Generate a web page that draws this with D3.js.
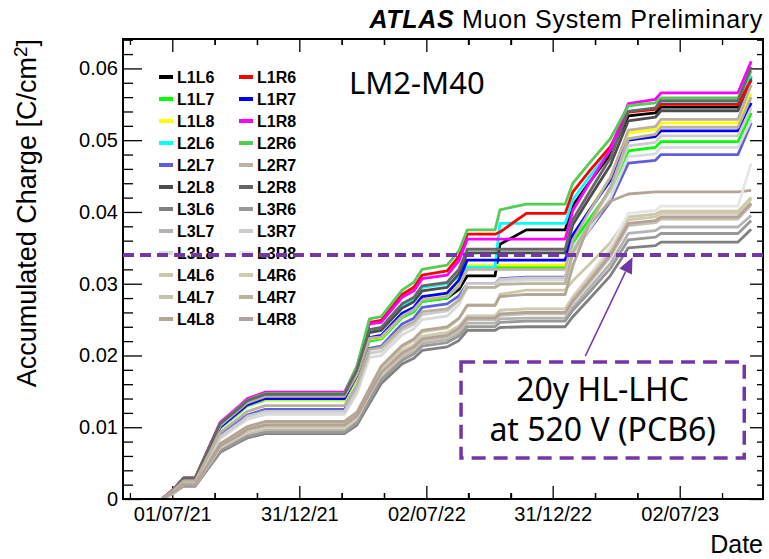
<!DOCTYPE html>
<html>
<head>
<meta charset="utf-8">
<script src="https://cdn.jsdelivr.net/npm/d3@7"></script>
<style>
  body { margin: 0; background: #fff; }
  text { font-family: "Liberation Sans", Arial, Helvetica, sans-serif; }
</style>
</head>
<body>
<svg id="chart" width="769" height="559"></svg>
<script>
// Sampling dates shared by every channel
const dates = ['2021-06-16','2021-07-02','2021-07-17','2021-08-03','2021-09-08','2021-10-07','2021-10-17','2021-11-12',
  '2022-03-06','2022-03-24','2022-04-11','2022-04-28','2022-05-28','2022-06-14','2022-06-26','2022-08-01','2022-08-18',
  '2022-08-30','2022-10-09','2022-10-16','2022-11-23','2023-01-18','2023-01-29','2023-02-21','2023-03-24','2023-04-19',
  '2023-05-28','2023-06-05','2023-09-24','2023-10-13'];

// Accumulated charge per HV channel [C/cm^2]
const L1L6 = [0,.0012,.0029,.0029,.0105,.0128,.0137,.0146,.0146,.0175,.0224,.0226,.0254,.0262,.0276,.0280,.0292,.0311,.0311,.0355,.0375,.0375,.0409,.0440,.0480,.0534,.0538,.0546,.0546,.0588];
const L1L7 = [0,.0012,.0027,.0027,.0099,.0121,.0130,.0138,.0138,.0169,.0220,.0223,.0253,.0261,.0275,.0280,.0297,.0322,.0322,.0323,.0323,.0323,.0357,.0389,.0430,.0485,.0490,.0498,.0498,.0538];
const L1L8 = [0,.0012,.0027,.0027,.0100,.0122,.0131,.0139,.0139,.0170,.0223,.0225,.0255,.0264,.0278,.0283,.0300,.0326,.0326,.0326,.0326,.0326,.0365,.0401,.0448,.0510,.0515,.0524,.0524,.0565];
const L2L6 = [0,.0012,.0028,.0028,.0103,.0126,.0135,.0144,.0144,.0178,.0234,.0237,.0270,.0279,.0295,.0300,.0309,.0323,.0323,.0384,.0384,.0384,.0417,.0448,.0487,.0540,.0544,.0552,.0552,.0590];
const L2L7 = [0,.0011,.0025,.0025,.0090,.0110,.0117,.0125,.0125,.0157,.0210,.0213,.0244,.0252,.0267,.0272,.0283,.0300,.0300,.0307,.0309,.0309,.0343,.0374,.0414,.0468,.0472,.0480,.0480,.0524];
const L2L8 = [0,.0012,.0028,.0028,.0104,.0127,.0136,.0145,.0145,.0177,.0232,.0235,.0266,.0275,.0290,.0295,.0314,.0343,.0343,.0343,.0343,.0343,.0382,.0418,.0465,.0527,.0532,.0541,.0541,.0585];
const L3L6 = [0,.0008,.0018,.0018,.0065,.0080,.0085,.0091,.0091,.0103,.0133,.0161,.0188,.0196,.0207,.0212,.0221,.0235,.0235,.0239,.0240,.0240,.0254,.0278,.0311,.0350,.0353,.0358,.0358,.0376];
const L3L7 = [0,.0008,.0019,.0019,.0069,.0084,.0090,.0096,.0096,.0109,.0140,.0169,.0197,.0206,.0217,.0222,.0231,.0245,.0245,.0251,.0252,.0252,.0267,.0293,.0328,.0370,.0374,.0379,.0379,.0395];
const L3L8 = [0,.0010,.0023,.0023,.0084,.0104,.0111,.0118,.0118,.0147,.0197,.0200,.0229,.0237,.0250,.0255,.0271,.0295,.0295,.0303,.0305,.0305,.0341,.0375,.0419,.0477,.0481,.0490,.0490,.0528];
const L4L6 = [0,.0009,.0021,.0021,.0075,.0092,.0099,.0105,.0105,.0118,.0152,.0182,.0211,.0221,.0233,.0238,.0251,.0270,.0270,.0285,.0291,.0291,.0304,.0326,.0357,.0393,.0397,.0401,.0401,.0420];
const L4L7 = [0,.0008,.0019,.0019,.0068,.0083,.0089,.0095,.0095,.0108,.0141,.0170,.0199,.0208,.0220,.0225,.0235,.0250,.0250,.0256,.0258,.0258,.0274,.0300,.0337,.0381,.0385,.0390,.0390,.0410];
const L4L8 = [0,.0009,.0021,.0021,.0077,.0095,.0101,.0108,.0108,.0121,.0154,.0185,.0214,.0223,.0235,.0240,.0252,.0270,.0270,.0282,.0285,.0285,.0325,.0382,.0415,.0425,.0428,.0428,.0428,.0430];
const L1R6 = [0,.0012,.0029,.0029,.0105,.0128,.0137,.0146,.0146,.0183,.0246,.0249,.0285,.0295,.0312,.0318,.0338,.0369,.0369,.0372,.0398,.0398,.0428,.0456,.0491,.0539,.0543,.0550,.0550,.0584];
const L1R7 = [0,.0012,.0027,.0027,.0100,.0123,.0131,.0140,.0140,.0172,.0225,.0228,.0259,.0267,.0282,.0287,.0305,.0333,.0333,.0333,.0333,.0333,.0368,.0401,.0444,.0500,.0505,.0513,.0513,.0552];
const L1R8 = [0,.0013,.0029,.0029,.0107,.0131,.0140,.0149,.0149,.0184,.0244,.0246,.0281,.0290,.0307,.0312,.0332,.0362,.0362,.0362,.0362,.0362,.0402,.0439,.0487,.0551,.0557,.0566,.0566,.0610];
const L2R6 = [0,.0012,.0029,.0029,.0105,.0129,.0138,.0147,.0147,.0185,.0251,.0254,.0291,.0302,.0320,.0326,.0346,.0375,.0375,.0403,.0411,.0411,.0440,.0467,.0502,.0548,.0552,.0559,.0559,.0597];
const L2R7 = [0,.0012,.0028,.0028,.0102,.0126,.0134,.0143,.0143,.0173,.0224,.0226,.0255,.0264,.0277,.0282,.0297,.0320,.0320,.0320,.0320,.0320,.0361,.0399,.0448,.0514,.0519,.0529,.0529,.0577];
const L2R8 = [0,.0012,.0029,.0029,.0105,.0128,.0137,.0146,.0146,.0180,.0236,.0239,.0272,.0281,.0297,.0302,.0320,.0348,.0348,.0348,.0348,.0348,.0389,.0426,.0475,.0540,.0545,.0555,.0555,.0602];
const L3R6 = [0,.0008,.0018,.0018,.0067,.0082,.0087,.0093,.0093,.0106,.0137,.0166,.0193,.0202,.0213,.0218,.0227,.0240,.0240,.0246,.0248,.0248,.0263,.0287,.0321,.0361,.0365,.0370,.0370,.0388];
const L3R7 = [0,.0010,.0024,.0024,.0087,.0107,.0115,.0122,.0122,.0152,.0203,.0206,.0235,.0243,.0257,.0262,.0277,.0300,.0300,.0306,.0308,.0308,.0347,.0383,.0430,.0492,.0497,.0506,.0506,.0545];
const L3R8 = [0,.0008,.0020,.0020,.0072,.0088,.0094,.0100,.0100,.0113,.0146,.0175,.0204,.0213,.0225,.0230,.0240,.0255,.0255,.0263,.0265,.0265,.0282,.0311,.0351,.0398,.0402,.0408,.0408,.0468];
const L4R6 = [0,.0008,.0020,.0020,.0072,.0088,.0094,.0100,.0100,.0113,.0146,.0177,.0206,.0215,.0227,.0232,.0241,.0255,.0255,.0263,.0265,.0265,.0281,.0308,.0345,.0389,.0393,.0398,.0398,.0418];
const L4R7 = [0,.0011,.0025,.0025,.0093,.0114,.0122,.0130,.0130,.0159,.0208,.0211,.0239,.0247,.0261,.0265,.0277,.0295,.0295,.0299,.0300,.0300,.0343,.0383,.0434,.0502,.0508,.0518,.0518,.0560];
const L4R8 = [0,.0009,.0020,.0020,.0074,.0090,.0097,.0103,.0103,.0116,.0147,.0176,.0203,.0212,.0223,.0228,.0238,.0252,.0252,.0258,.0260,.0260,.0276,.0303,.0340,.0384,.0388,.0393,.0393,.0412];

const channelNames = ['L1L6','L1L7','L1L8','L2L6','L2L7','L2L8','L3L6','L3L7','L3L8','L4L6','L4L7','L4L8',
                      'L1R6','L1R7','L1R8','L2R6','L2R7','L2R8','L3R6','L3R7','L3R8','L4R6','L4R7','L4R8'];
const channelValues = [L1L6,L1L7,L1L8,L2L6,L2L7,L2L8,L3L6,L3L7,L3L8,L4L6,L4L7,L4L8,
                       L1R6,L1R7,L1R8,L2R6,L2R7,L2R8,L3R6,L3R7,L3R8,L4R6,L4R7,L4R8];
const channelColors = ['#000000','#00ff00','#ffff00','#00ffff','#5f5fdc','#4d4d4d','#808080','#b3b3b3','#dadada','#cdc8ab','#c6c2ad','#b4a695',
                       '#ff0000','#0000ff','#ff00ff','#55cc55','#bcb1a4','#666666','#999999','#cccccc','#e6e6e6','#d0cbae','#b9b39d','#b4a19b'];

// Axis ticks
const xMajorTickDates = ['2021-07-01','2021-12-31','2022-07-02','2022-12-31','2023-07-02'];
const xTickLabels = ['01/07/21','31/12/21','02/07/22','31/12/22','02/07/23'];
const yMajorTicks = [0, 0.01, 0.02, 0.03, 0.04, 0.05, 0.06];
const yTickLabels = ['0','0.01','0.02','0.03','0.04','0.05','0.06'];

// HL-LHC reference level
const hlLhcCharge = 0.034;

const parse = d3.utcParse('%Y-%m-%d');
const svg = d3.select('#chart');
const m = { left: 123, right: 763, top: 39, bottom: 499 };

const x = d3.scaleUtc()
  .domain([parse('2021-04-21'), parse('2023-10-30')])
  .range([m.left, m.right]);
const y = d3.scaleLinear().domain([0, 0.0641]).range([m.bottom, m.top]);

const xMajor = xMajorTickDates.map(parse);
const xMinor = [];
xMajor.forEach(d => {
  [-122, -61, 61, 122].forEach(o => {
    const t = d3.utcDay.offset(d, o);
    if (t >= x.domain()[0] && t <= x.domain()[1]) xMinor.push(t);
  });
});
const yMinor = d3.range(0, 0.0641, 0.002).filter(v => Math.abs(v / 0.01 - Math.round(v / 0.01)) > 1e-6);

const fontTick = 20;

// Bottom axis
svg.append('g').attr('transform', `translate(0,${m.bottom})`)
  .call(d3.axisBottom(x).tickValues(xMajor).tickSize(-13).tickPadding(8)
    .tickFormat((d, i) => xTickLabels[i]));
svg.append('g').attr('transform', `translate(0,${m.bottom})`)
  .call(d3.axisBottom(x).tickValues(xMinor).tickSize(-6).tickFormat(''));
// Top axis
svg.append('g').attr('transform', `translate(0,${m.top})`)
  .call(d3.axisTop(x).tickValues(xMajor).tickSize(-13).tickFormat(''));
svg.append('g').attr('transform', `translate(0,${m.top})`)
  .call(d3.axisTop(x).tickValues(xMinor).tickSize(-6).tickFormat(''));
// Left axis
svg.append('g').attr('transform', `translate(${m.left},0)`)
  .call(d3.axisLeft(y).tickValues(yMajorTicks).tickSize(-19).tickPadding(5)
    .tickFormat((d, i) => yTickLabels[i]));
svg.append('g').attr('transform', `translate(${m.left},0)`)
  .call(d3.axisLeft(y).tickValues(yMinor).tickSize(-10).tickFormat(''));
// Right axis
svg.append('g').attr('transform', `translate(${m.right},0)`)
  .call(d3.axisRight(y).tickValues(yMajorTicks).tickSize(-13).tickFormat(''));
svg.append('g').attr('transform', `translate(${m.right},0)`)
  .call(d3.axisRight(y).tickValues(yMinor).tickSize(-6).tickFormat(''));

svg.selectAll('.domain').remove();
svg.selectAll('.tick line').attr('stroke', '#000').attr('stroke-width', 1.3);
svg.selectAll('.tick text').attr('fill', '#000')
  .style('font-family', '"Liberation Sans", Arial, sans-serif')
  .style('font-size', fontTick + 'px');

// Curves
const line = d3.line()
  .x((d, i) => x(parse(dates[i])))
  .y(d => y(d));
const plot = svg.append('g');
channelValues.forEach((vals, k) => {
  plot.append('path')
    .attr('d', line(vals))
    .attr('fill', 'none')
    .attr('stroke', channelColors[k])
    .attr('stroke-width', 2.8)
    .attr('stroke-linejoin', 'round');
});

// Frame
svg.append('rect')
  .attr('x', m.left).attr('y', m.top)
  .attr('width', m.right - m.left).attr('height', m.bottom - m.top)
  .attr('fill', 'none').attr('stroke', '#000').attr('stroke-width', 2);

// Legend: two columns, twelve rows
const legend = svg.append('g');
channelNames.forEach((name, k) => {
  const col = Math.floor(k / 12), row = k % 12;
  const lx = 159 + col * 80, ly = 77 + row * 22;
  legend.append('line')
    .attr('x1', lx).attr('x2', lx + 14).attr('y1', ly).attr('y2', ly)
    .attr('stroke', channelColors[k]).attr('stroke-width', 4);
  legend.append('text')
    .attr('x', lx + 18).attr('y', ly).attr('dy', '0.36em')
    .style('font-size', '16px').style('font-weight', 'bold')
    .text(name);
});

// Module name
svg.append('text')
  .attr('x', 349).attr('y', 94)
  .style('font-family', '"Noto Sans", "Open Sans", sans-serif')
  .style('font-size', '31px')
  .text('LM2-M40');

// HL-LHC reference line
const purple = '#7237a6';
svg.append('line')
  .attr('x1', m.left).attr('x2', m.right)
  .attr('y1', y(hlLhcCharge)).attr('y2', y(hlLhcCharge))
  .attr('stroke', purple).attr('stroke-width', 4)
  .attr('stroke-dasharray', '11,6');

// Annotation box
const bx0 = x(parse('2022-08-21')), bx1 = x(parse('2023-10-03'));
const by0 = y(0.0191), by1 = y(0.0057);
svg.append('rect')
  .attr('x', bx0).attr('y', by0)
  .attr('width', bx1 - bx0).attr('height', by1 - by0)
  .attr('fill', 'none').attr('stroke', purple).attr('stroke-width', 3.5)
  .attr('stroke-dasharray', '14,8');
const annot = svg.append('text')
  .attr('text-anchor', 'middle')
  .style('font-family', '"Noto Sans", "Open Sans", sans-serif')
  .style('font-size', '32px');
annot.append('tspan').attr('x', (bx0 + bx1) / 2).attr('y', by0 + 39).text('20y HL-LHC');
annot.append('tspan').attr('x', (bx0 + bx1) / 2).attr('y', by0 + 79).text('at 520 V (PCB6)');

// Arrow pointing at the reference line
const ax0 = x(parse('2023-02-16')), ay0 = y(0.0199);
const ax1 = x(parse('2023-04-25')), ay1 = y(0.0337);
const ang = Math.atan2(ay1 - ay0, ax1 - ax0);
const headLen = 16, headHalf = 7;
const bxh = ax1 - headLen * Math.cos(ang), byh = ay1 - headLen * Math.sin(ang);
svg.append('line')
  .attr('x1', ax0).attr('y1', ay0).attr('x2', bxh).attr('y2', byh)
  .attr('stroke', purple).attr('stroke-width', 1.5);
svg.append('path')
  .attr('d', `M${ax1},${ay1}L${bxh + headHalf * Math.sin(ang)},${byh - headHalf * Math.cos(ang)}L${bxh - headHalf * Math.sin(ang)},${byh + headHalf * Math.cos(ang)}Z`)
  .attr('fill', purple);

// Axis titles
svg.append('text')
  .attr('transform', `translate(36,${m.top}) rotate(-90)`)
  .attr('text-anchor', 'end')
  .style('font-size', '27px')
  .call(t => {
    t.append('tspan').text('Accumulated Charge [C/cm');
    t.append('tspan').attr('dy', '-0.45em').style('font-size', '19px').text('2');
    t.append('tspan').attr('dy', '0.3em').text(']');
  });
svg.append('text')
  .attr('x', m.right).attr('y', 553)
  .attr('text-anchor', 'end')
  .style('font-size', '25px')
  .text('Date');

// Experiment label
const title = svg.append('text')
  .attr('x', m.right).attr('y', 28)
  .attr('text-anchor', 'end')
  .style('font-size', '25px')
  .style('letter-spacing', '0.7px');
title.append('tspan').style('font-weight', 'bold').style('font-style', 'italic').text('ATLAS');
title.append('tspan').text(' Muon System Preliminary');
</script>
</body>
</html>
